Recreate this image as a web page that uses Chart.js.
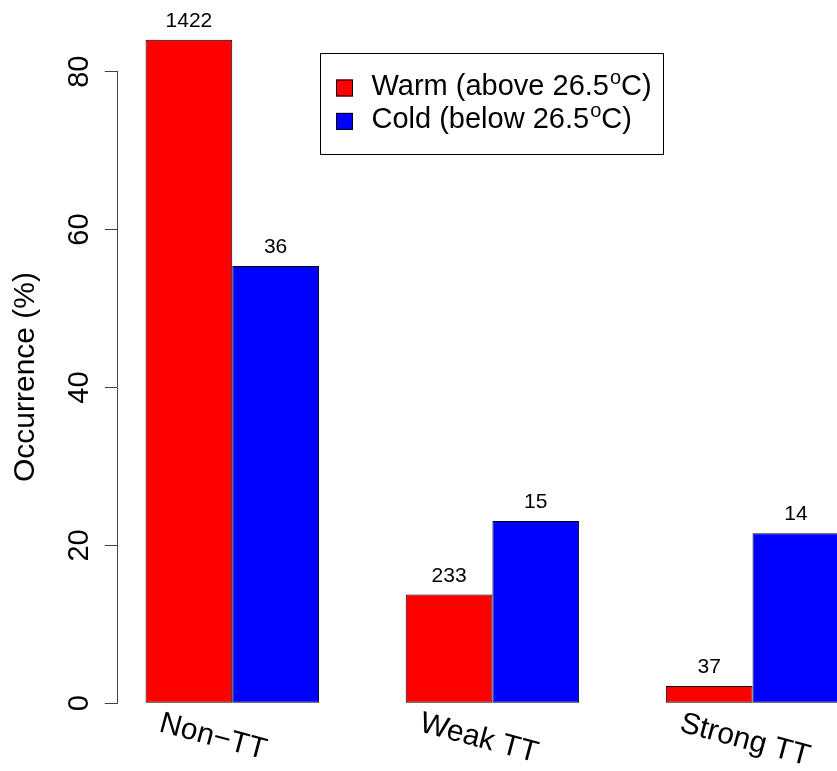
<!DOCTYPE html>
<html>
<head>
<meta charset="utf-8">
<title>Occurrence by TT class</title>
<script src="https://cdn.jsdelivr.net/npm/chart.js@4.4.1/dist/chart.umd.min.js"></script>
<style>
  html, body { margin: 0; padding: 0; background: #ffffff; overflow: hidden; }
  #wrap { position: relative; width: 880px; height: 771px; }
  canvas { display: block; }
</style>
</head>
<body>
<div id="wrap"><canvas id="chart" width="880" height="771"></canvas></div>
<script>
// ---- data ----
const categories = ['Non\u2212TT', 'Weak TT', 'Strong TT'];
const warmPercent = [84.04, 13.77, 2.19];
const coldPercent = [55.38, 23.08, 21.54];
const warmCounts = [1422, 233, 37];
const coldCounts = [36, 15, 14];
const yTicks = [0, 20, 40, 60, 80];
const legendLabels = [
  ['Warm (above 26.5', 'o', 'C)'],
  ['Cold (below 26.5', 'o', 'C)']
];

// ---- layout (barplot-style units: bar width 1, one empty bar between groups) ----
const FAMILY = '"Liberation Sans", Arial, Helvetica, sans-serif';
const BARS_PER_GROUP = 2;
const GROUP_STEP = BARS_PER_GROUP + 1;
const groupCenter = i => 1 + GROUP_STEP * i + BARS_PER_GROUP / 2;
const X_MIN = 0.68, X_MAX = 9.32;

const WARM = '#ff0000', COLD = '#0000ff';

function toPoints(values) {
  return values.map((v, i) => ({ x: groupCenter(i), y: v }));
}

// text overlays: counts over bars, rotated group labels, y tick labels, y title, legend
const annotations = {
  id: 'annotations',
  afterDraw(chart) {
    const ctx = chart.ctx;
    const xs = chart.scales.x, ys = chart.scales.y;
    ctx.save();
    ctx.fillStyle = '#000';

    // counts above each bar
    ctx.font = '21px ' + FAMILY;
    ctx.textAlign = 'center';
    ctx.textBaseline = 'alphabetic';
    chart.data.datasets.forEach((ds, di) => {
      chart.getDatasetMeta(di).data.forEach((bar, i) => {
        ctx.fillText(String(ds.counts[i]), bar.x, bar.y - 13);
      });
    });

    // group labels, tilted
    ctx.font = '30px ' + FAMILY;
    ctx.textAlign = 'left';
    categories.forEach((lab, i) => {
      const px = xs.getPixelForValue(groupCenter(i) - 0.855);
      ctx.save();
      ctx.translate(px, 731);
      ctx.rotate(15 * Math.PI / 180);
      ctx.fillText(lab, 0, 0);
      ctx.restore();
    });

    // y tick labels (parallel to the axis)
    ctx.font = '29px ' + FAMILY;
    ctx.textAlign = 'center';
    yTicks.forEach(v => {
      const py = ys.getPixelForValue(v);
      ctx.save();
      ctx.translate(88, py);
      ctx.rotate(-Math.PI / 2);
      ctx.fillText(String(v), 0, 0);
      ctx.restore();
    });

    // y axis title
    ctx.font = '30px ' + FAMILY;
    ctx.save();
    ctx.translate(34, 377);
    ctx.rotate(-Math.PI / 2);
    ctx.fillText('Occurrence (%)', 0, 0);
    ctx.restore();

    // legend
    ctx.lineWidth = 1;
    ctx.strokeStyle = '#000';
    ctx.strokeRect(320.5, 53.5, 343, 101);
    const colors = [WARM, COLD];
    ctx.textAlign = 'left';
    legendLabels.forEach((parts, r) => {
      const top = 79.5 + r * 33.4;
      ctx.fillStyle = colors[r];
      ctx.fillRect(336, top, 17, 17);
      ctx.strokeStyle = '#000';
      ctx.strokeRect(336.5, top + 0.5, 16, 16);
      ctx.fillStyle = '#000';
      const base = top + 15.5;
      let tx = 371.5;
      ctx.font = '29px ' + FAMILY;
      ctx.fillText(parts[0], tx, base);
      tx += ctx.measureText(parts[0]).width;
      ctx.font = '20px ' + FAMILY;
      ctx.fillText(parts[1], tx + 1, base - 11);
      tx += ctx.measureText(parts[1]).width + 1;
      ctx.font = '29px ' + FAMILY;
      ctx.fillText(parts[2], tx, base);
    });

    ctx.restore();
  }
};

new Chart(document.getElementById('chart'), {
  type: 'bar',
  data: {
    datasets: [
      { label: 'Warm', data: toPoints(warmPercent), counts: warmCounts,
        backgroundColor: WARM, borderColor: '#000', borderWidth: 1, borderSkipped: false, clip: false },
      { label: 'Cold', data: toPoints(coldPercent), counts: coldCounts,
        backgroundColor: COLD, borderColor: '#000', borderWidth: 1, borderSkipped: false, clip: false }
    ]
  },
  options: {
    responsive: false,
    animation: false,
    devicePixelRatio: 1,
    layout: { padding: { left: 0, right: 13, top: 71.7, bottom: 67.7 } },
    datasets: { bar: { categoryPercentage: BARS_PER_GROUP / GROUP_STEP, barPercentage: 1 } },
    plugins: { legend: { display: false }, tooltip: { enabled: false } },
    scales: {
      x: {
        type: 'linear', min: X_MIN, max: X_MAX, display: false,
        offset: false, bounds: 'data', grace: 0,
        grid: { offset: false },
        afterBuildTicks: s => { s.ticks = categories.map((c, i) => ({ value: groupCenter(i) })); }
      },
      y: {
        type: 'linear', min: 0, max: 80,
        afterBuildTicks: s => { s.ticks = yTicks.map(v => ({ value: v })); },
        afterFit: s => { s.width = 117.8; },
        ticks: { display: false },
        grid: { drawOnChartArea: false, drawTicks: true, tickLength: 13, color: '#444', lineWidth: 1 },
        border: { display: true, color: '#444', width: 1 }
      }
    }
  },
  plugins: [annotations]
});
</script>
</body>
</html>
